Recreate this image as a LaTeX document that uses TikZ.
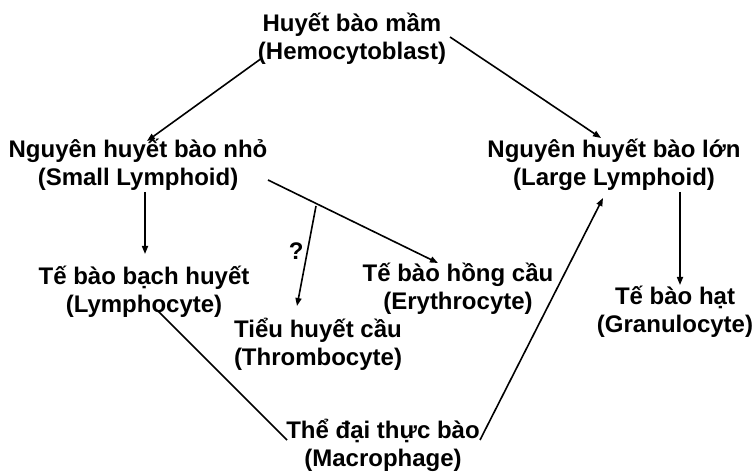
\documentclass[tikz,border=0pt]{standalone}
\usepackage{fontspec}
\setmainfont{Liberation Sans}
\usetikzlibrary{arrows.meta}
\begin{document}
\begin{tikzpicture}[x=1bp,y=-1bp,
  lbl/.style={align=center,inner sep=0pt,anchor=base,font=\fontsize{24bp}{28bp}\selectfont\bfseries},
  conn/.style={line width=1.6bp,-{Triangle[length=8bp,width=6bp]}},
  plain/.style={line width=1.6bp}]
\useasboundingbox (0,0) rectangle (755,473);
% base anchor = baseline of the last line
\node[lbl] (hemo) at (352,60) {Huyết bào mầm\\(Hemocytoblast)};
\node[lbl] (small) at (138,186) {Nguyên huyết bào nhỏ\\(Small Lymphoid)};
\node[lbl] (large) at (614,186) {Nguyên huyết bào lớn\\(Large Lymphoid)};
\node[lbl] (lymph) at (144,313) {Tế bào bạch huyết\\(Lymphocyte)};
\node[lbl] (ery) at (458,310) {Tế bào hồng cầu\\(Erythrocyte)};
\node[lbl] (thromb) at (318,366) {Tiểu huyết cầu\\(Thrombocyte)};
\node[lbl] (gran) at (675,333) {Tế bào hạt\\(Granulocyte)};
\node[lbl] (macro) at (383,466) {Thể đại thực bào\\(Macrophage)};

\draw[conn] ([shift={(-90,-2)}]hemo.base) -- ([shift={(9,-45)}]small.base);
\draw[conn] ([shift={(98,-23)}]hemo.base) -- ([shift={(-13,-48)}]large.base);
\draw[conn] ([shift={(7,6)}]small.base) -- ([shift={(1,-59)}]lymph.base);
\draw[conn] ([shift={(130,-6)}]small.base) -- ([shift={(-20,-47)}]ery.base);
\draw[conn] ([shift={(178,20)}]small.base) -- node[pos=0.45,left=3bp,inner sep=0pt,font=\fontsize{24bp}{28bp}\selectfont\bfseries] (q) {?} ([shift={(-21,-60)}]thromb.base);
\draw[conn] ([shift={(66,6)}]large.base) -- ([shift={(5,-48)}]gran.base);
\draw[plain] ([shift={(13,-3)}]lymph.base) -- ([shift={(-96,-26)}]macro.base);
\draw[conn] ([shift={(97,-26)}]macro.base) -- ([shift={(-11,12)}]large.base);
\end{tikzpicture}
\end{document}
